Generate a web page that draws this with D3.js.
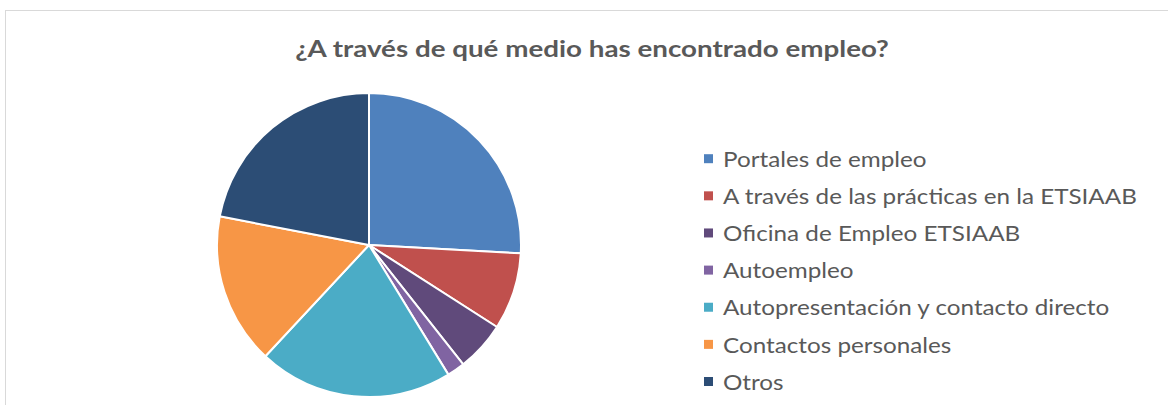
<!DOCTYPE html>
<html><head><meta charset="utf-8">
<script src="https://cdn.jsdelivr.net/npm/d3@7"></script>
<style>html,body{margin:0;padding:0;background:#fff;overflow:hidden}</style>
</head><body>
<svg id="chart" width="1168" height="405"></svg>
<script>
const title = "¿A través de qué medio has encontrado empleo?";
const categories = ["Portales de empleo","A través de las prácticas en la ETSIAAB","Oficina de Empleo ETSIAAB","Autoempleo","Autopresentación y contacto directo","Contactos personales","Otros"];
const values = [25.9, 8.2, 5.3, 1.9, 20.7, 16.1, 22.0];
const colors = ["#4F81BD","#C0504D","#604A7B","#8064A2","#4BACC6","#F79646","#2C4D75"];

const svg = d3.select("#chart");
const FONT = "Lato, 'Open Sans', sans-serif";

svg.append("rect").attr("x",5.5).attr("y",10.5).attr("width",1300).attr("height",600)
  .attr("fill","#fff").attr("stroke","#D9D9D9").attr("stroke-width",1);

// title
const tg = svg.append("g");
const t = tg.append("text").attr("x",0).attr("y",0).attr("text-anchor","middle")
  .attr("font-family",FONT).attr("font-weight","bold").attr("fill","#595959")
  .attr("font-size",23).text(title);
const tw = t.node().getComputedTextLength();
tg.attr("transform",`translate(592,57) scale(${594/tw},1)`);

// pie
const cx = 369, cy = 245, r = 152;
const pie = d3.pie().sort(null).value(d=>d.v);
const arc = d3.arc().innerRadius(0).outerRadius(r);
const data = categories.map((c,i)=>({c, v:values[i]}));
const color = d3.scaleOrdinal().domain(categories).range(colors);
svg.append("g").attr("transform",`translate(${cx},${cy})`)
  .selectAll("path").data(pie(data)).join("path")
  .attr("d",arc).attr("fill",d=>color(d.data.c))
  .attr("stroke","#fff").attr("stroke-width",2).attr("stroke-linejoin","round");

// legend
const ly = d3.scalePoint().domain(categories).range([158.7,381.5]);
const items = svg.append("g").selectAll("g").data(categories).join("g")
  .attr("transform",d=>`translate(704,${ly(d)})`);
items.append("rect").attr("x",0).attr("y",-4.5).attr("width",9).attr("height",9)
  .attr("fill",d=>color(d));
const labels = items.append("text").attr("x",0).attr("y",0)
  .attr("font-family",FONT).attr("fill","#595959").attr("font-size",21).text(d=>d);
const maxW = d3.max(labels.nodes(), n=>n.getComputedTextLength());
const sx = 414/maxW;
labels.attr("transform",`translate(19,8.2) scale(${sx},1)`);
</script>
</body></html>
